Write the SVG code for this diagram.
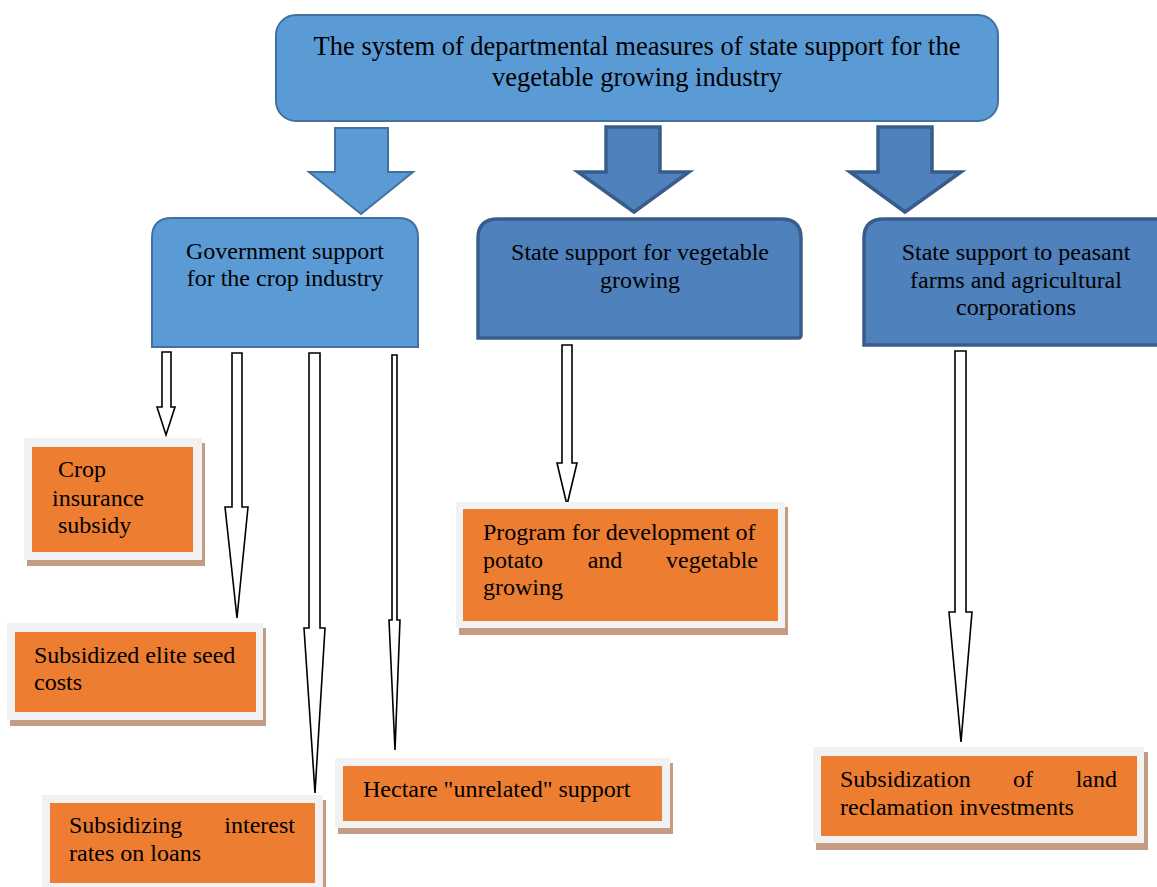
<svg xmlns="http://www.w3.org/2000/svg" width="1157" height="887" viewBox="0 0 1157 887">
<style>
.t{font-family:"Liberation Serif","Times New Roman",serif;fill:#000}
.t26{font-size:26.5px}
.t24{font-size:24px}
.lb{fill:#5B9BD5;stroke:#41719C;stroke-width:2}
.db{fill:#4F81BD;stroke:#385D8A;stroke-width:3.5}
.frame{fill:#F2F2F2}
.shadow{fill:#C49C84}
.or{fill:#ED7D31}
.thin{fill:#FFFFFF;stroke:#000;stroke-width:1.6;stroke-linejoin:miter}
</style>
<rect width="1157" height="887" fill="#FFFFFF"/>

<g id="top">
<rect class="lb" x="276" y="15" width="722" height="106" rx="20" ry="20"/>
<text class="t t26" x="637" y="55" text-anchor="middle">The system of departmental measures of state support for the</text>
<text class="t t26" x="637" y="86" text-anchor="middle">vegetable growing industry</text>
</g>

<g id="connectors">
<polygon class="lb" points="335,128 388,128 388,172 413,172 361,214 309,172 335,172"/>
<polygon class="db" points="606,127 660,127 660,172 689,172 634,212 578,172 606,172"/>
<polygon class="db" points="878,127 932,127 932,172 961,172 905,212 850,172 878,172"/>
<polygon class="thin" points="162,352 171,352 171,407 175,407 166,435 157,407 162,407"/>
<polygon class="thin" points="232,353 242,353 242,507 248,507 237,618 225,507 232,507"/>
<polygon class="thin" points="309,353 320,353 320,628 325,628 315,793 304,628 309,628"/>
<polygon class="thin" points="392,355 397,355 397,620 400,620 395,750 389,620 392,620"/>
<polygon class="thin" points="562,345 572,345 572,463 577,463 567,505 557,463 562,463"/>
<polygon class="thin" points="955,351 966,351 966,612 972,612 961,742 949,612 955,612"/>
</g>

<g id="crop-industry">
<path class="lb" d="M152,347 L152,238 Q152,218 172,218 L398,218 Q418,218 418,238 L418,347 Z"/>
<text class="t t24" x="285" y="259" text-anchor="middle">Government support</text>
<text class="t t24" x="285" y="286" text-anchor="middle">for the crop industry</text>
</g>

<g id="vegetable-growing">
<path class="db" d="M478,338 L478,238 Q478,219 498,219 L781,219 Q801,219 801,238 L801,335 Q801,338 798,338 Z"/>
<text class="t t24" x="640" y="260" text-anchor="middle">State support for vegetable</text>
<text class="t t24" x="640" y="288" text-anchor="middle">growing</text>
</g>

<g id="peasant-farms">
<path class="db" d="M864,345 L864,238 Q864,219 884,219 L1170,219 L1170,345 Z"/>
<text class="t t24" x="1016" y="260" text-anchor="middle">State support to peasant</text>
<text class="t t24" x="1016" y="288" text-anchor="middle">farms and agricultural</text>
<text class="t t24" x="1016" y="315" text-anchor="middle">corporations</text>
</g>

<g id="crop-insurance">
<rect class="shadow" x="27" y="443" width="178" height="123"/>
<rect class="frame" x="24" y="438" width="178" height="122"/>
<rect class="or" x="32" y="447" width="161" height="105"/>
<text class="t t24" x="58" y="477">Crop</text>
<text class="t t24" x="52" y="506">insurance</text>
<text class="t t24" x="58" y="533">subsidy</text>
</g>

<g id="elite-seed">
<rect class="shadow" x="10" y="628" width="256" height="98"/>
<rect class="frame" x="7" y="623" width="256" height="97"/>
<rect class="or" x="15" y="632" width="241" height="80"/>
<text class="t t24" x="34" y="663">Subsidized elite seed</text>
<text class="t t24" x="34" y="690">costs</text>
</g>

<g id="interest-rates">
<rect class="shadow" x="45" y="800" width="281" height="95"/>
<rect class="frame" x="42" y="795" width="281" height="95"/>
<rect class="or" x="50" y="803" width="265" height="80"/>
<text class="t t24" x="69" y="833">Subsidizing</text>
<text class="t t24" x="295" y="833" text-anchor="end">interest</text>
<text class="t t24" x="69" y="861">rates on loans</text>
</g>

<g id="hectare">
<rect class="shadow" x="338" y="763" width="335" height="71"/>
<rect class="frame" x="335" y="758" width="335" height="70"/>
<rect class="or" x="343" y="766" width="319" height="55"/>
<text class="t t24" x="363" y="797">Hectare "unrelated" support</text>
</g>

<g id="potato-program">
<rect class="shadow" x="459" y="507" width="329" height="128"/>
<rect class="frame" x="456" y="502" width="329" height="126"/>
<rect class="or" x="463" y="509" width="315" height="112"/>
<text class="t t24" x="483" y="540">Program for development of</text>
<text class="t t24" x="483" y="568">potato</text>
<text class="t t24" x="605" y="568" text-anchor="middle">and</text>
<text class="t t24" x="758" y="568" text-anchor="end">vegetable</text>
<text class="t t24" x="483" y="595">growing</text>
</g>

<g id="land-reclamation">
<rect class="shadow" x="816" y="752" width="332" height="98"/>
<rect class="frame" x="813" y="747" width="331" height="96"/>
<rect class="or" x="821" y="756" width="316" height="80"/>
<text class="t t24" x="840" y="787">Subsidization</text>
<text class="t t24" x="1023" y="787" text-anchor="middle">of</text>
<text class="t t24" x="1117" y="787" text-anchor="end">land</text>
<text class="t t24" x="840" y="815">reclamation investments</text>
</g>
</svg>
